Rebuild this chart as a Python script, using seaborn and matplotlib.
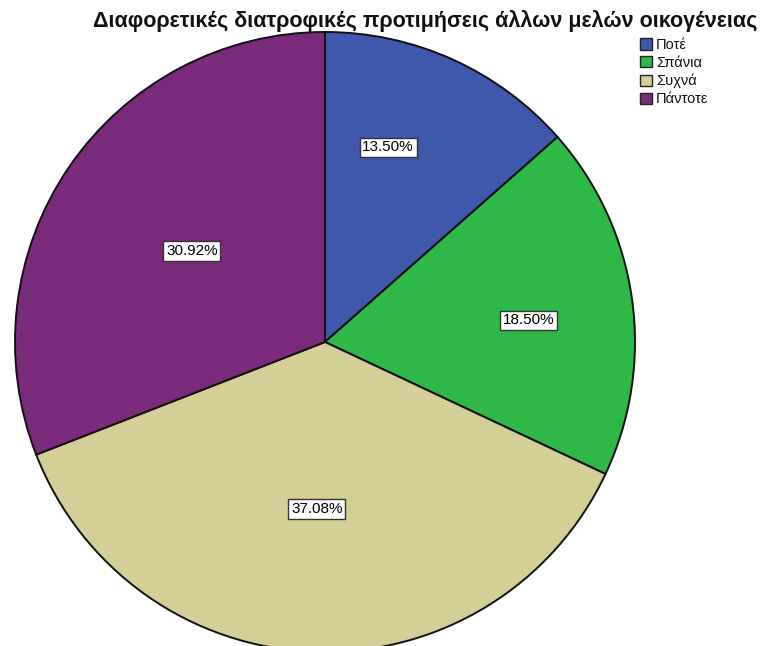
import matplotlib
matplotlib.use("Agg")
import numpy as np
import matplotlib.pyplot as plt
import seaborn as sns

# Survey answers and their shares (%)
categories = ["Ποτέ", "Σπάνια", "Συχνά", "Πάντοτε"]
shares = [13.50, 18.50, 37.08, 30.92]
colors = ["#3E58AC", "#2EB848", "#D4CE97", "#7A2A7A"]
title = "Διαφορετικές διατροφικές προτιμήσεις άλλων μελών οικογένειας"

# where each value label sits inside its wedge: (fraction along the arc, radius)
label_spots = [(0.37, 0.66), (0.53, 0.66), (0.506, 0.54), (0.50, 0.52)]

sns.set_theme(style="white")
plt.rcParams["font.family"] = ["Liberation Sans", "DejaVu Sans"]

W, H = 761, 646
fig = plt.figure(figsize=(W / 100, H / 100), dpi=100)
ax = fig.add_axes([0, 0, 1, 1])

wedges, _ = ax.pie(
    shares,
    colors=sns.color_palette(colors),
    startangle=90,
    counterclock=False,
    radius=1.0,
    wedgeprops=dict(edgecolor="#111111", linewidth=1.4),
    frame=True,
)
ax.set_axis_off()

# pie centre / radius in pixels
cx, cy, r = 325, 342, 310
ax.set_xlim(-cx / r, (W - cx) / r)
ax.set_ylim(-(H - cy) / r, cy / r)
ax.set_aspect("auto")

for w, val, (frac, rad) in zip(wedges, shares, label_spots):
    # wedges run clockwise, so theta2 is the starting edge
    ang = np.deg2rad(w.theta2 - frac * (w.theta2 - w.theta1))
    ax.text(rad * np.cos(ang), rad * np.sin(ang), f"{val:.2f}%",
            ha="center", va="center", fontsize=11, color="black",
            bbox=dict(boxstyle="square,pad=0.18", facecolor="white",
                      edgecolor="#333333", linewidth=1.0))

fig.text(425 / W, 1 - 21 / H, title, ha="center", va="center",
         fontsize=15.5, fontweight="bold", color="#111111")

leg = ax.legend(
    wedges, categories,
    loc="upper left",
    bbox_to_anchor=(640 / W, 1 - 38 / H),
    bbox_transform=fig.transFigure,
    frameon=False,
    fontsize=10.5,
    handlelength=0.8,
    handleheight=0.8,
    handletextpad=0.3,
    labelspacing=0.27,
    borderaxespad=0,
    borderpad=0,
)
for h in leg.legend_handles:
    h.set_edgecolor("#222222")
    h.set_linewidth(1.0)
for t in leg.get_texts():
    t.set_color("#111111")

fig.savefig("out.png", dpi=100)
